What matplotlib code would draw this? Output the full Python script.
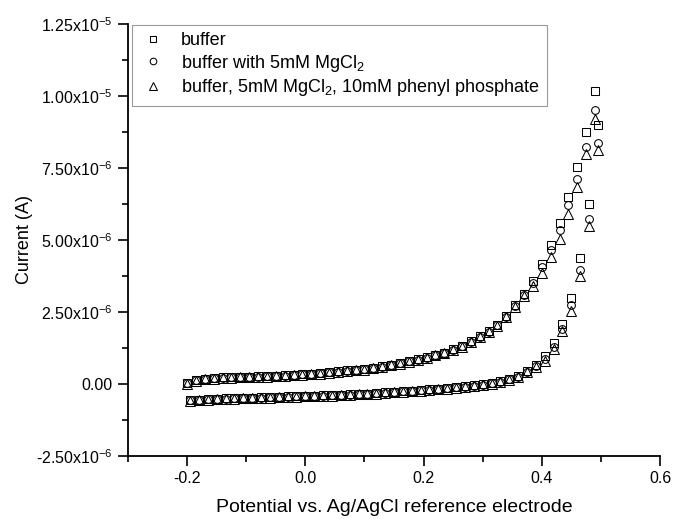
import matplotlib
matplotlib.use("Agg")
import matplotlib.pyplot as plt
from matplotlib.ticker import MultipleLocator, FixedLocator, FixedFormatter

plt.rcParams['font.family'] = ['Liberation Sans', 'DejaVu Sans']
plt.rcParams['mathtext.fontset'] = 'custom'
plt.rcParams['mathtext.rm'] = 'Liberation Sans'
plt.rcParams['mathtext.it'] = 'Liberation Sans:italic'
plt.rcParams['mathtext.bf'] = 'Liberation Sans:bold'

# ---------------- data (current in microamps) ----------------
x_forward = [-0.200, -0.185, -0.170, -0.155, -0.140, -0.125, -0.110, -0.095, -0.080, -0.065,
             -0.050, -0.035, -0.020, -0.005, 0.010, 0.025, 0.040, 0.055, 0.070, 0.085,
             0.100, 0.115, 0.130, 0.145, 0.160, 0.175, 0.190, 0.205, 0.220, 0.235,
             0.250, 0.265, 0.280, 0.295, 0.310, 0.325, 0.340, 0.355, 0.370, 0.385,
             0.400, 0.415, 0.430, 0.445, 0.460, 0.475, 0.490]
x_reverse = [0.495, 0.480, 0.465, 0.450, 0.435, 0.420, 0.405, 0.390, 0.375, 0.360,
             0.345, 0.330, 0.315, 0.300, 0.285, 0.270, 0.255, 0.240, 0.225, 0.210,
             0.195, 0.180, 0.165, 0.150, 0.135, 0.120, 0.105, 0.090, 0.075, 0.060,
             0.045, 0.030, 0.015, 0.000, -0.015, -0.030, -0.045, -0.060, -0.075, -0.090,
             -0.105, -0.120, -0.135, -0.150, -0.165, -0.180, -0.195]

buffer_fwd = [0.03, 0.14, 0.19, 0.21, 0.23, 0.24, 0.25, 0.26, 0.27, 0.28,
              0.29, 0.30, 0.32, 0.34, 0.36, 0.38, 0.41, 0.44, 0.47, 0.49,
              0.52, 0.56, 0.61, 0.67, 0.73, 0.80, 0.86, 0.93, 1.01, 1.09,
              1.20, 1.32, 1.48, 1.65, 1.83, 2.05, 2.36, 2.74, 3.13, 3.59,
              4.18, 4.84, 5.58, 6.48, 7.53, 8.75, 10.17]
buffer_rev = [9.01, 6.25, 4.37, 3.00, 2.08, 1.44, 0.97, 0.66, 0.44, 0.28,
              0.17, 0.09, 0.03, -0.01, -0.05, -0.08, -0.11, -0.14, -0.17, -0.19,
              -0.21, -0.23, -0.25, -0.27, -0.29, -0.31, -0.33, -0.34, -0.36, -0.37,
              -0.38, -0.39, -0.40, -0.41, -0.42, -0.43, -0.44, -0.45, -0.46, -0.47,
              -0.48, -0.49, -0.50, -0.51, -0.52, -0.54, -0.56]

mgcl2_fwd = [0.02, 0.13, 0.18, 0.20, 0.22, 0.23, 0.24, 0.25, 0.26, 0.27,
             0.28, 0.29, 0.31, 0.33, 0.35, 0.37, 0.40, 0.43, 0.46, 0.48,
             0.51, 0.55, 0.60, 0.66, 0.72, 0.79, 0.85, 0.92, 1.00, 1.08,
             1.19, 1.31, 1.47, 1.64, 1.82, 2.04, 2.33, 2.70, 3.10, 3.50,
             4.05, 4.65, 5.33, 6.20, 7.12, 8.22, 9.53]
mgcl2_rev = [8.37, 5.73, 3.96, 2.75, 1.90, 1.30, 0.88, 0.62, 0.42, 0.26,
             0.16, 0.08, 0.02, -0.02, -0.06, -0.09, -0.12, -0.15, -0.18, -0.20,
             -0.22, -0.24, -0.26, -0.28, -0.30, -0.32, -0.34, -0.35, -0.37, -0.38,
             -0.39, -0.40, -0.41, -0.42, -0.43, -0.44, -0.45, -0.46, -0.47, -0.48,
             -0.49, -0.50, -0.51, -0.52, -0.53, -0.55, -0.57]

phenyl_fwd = [0.01, 0.12, 0.17, 0.19, 0.21, 0.22, 0.23, 0.24, 0.25, 0.26,
              0.27, 0.28, 0.30, 0.32, 0.34, 0.36, 0.39, 0.42, 0.45, 0.47,
              0.50, 0.54, 0.59, 0.65, 0.71, 0.78, 0.84, 0.91, 0.99, 1.07,
              1.18, 1.30, 1.46, 1.63, 1.81, 2.02, 2.31, 2.68, 3.06, 3.42,
              3.85, 4.40, 5.04, 5.92, 6.83, 7.97, 9.21]
phenyl_rev = [8.11, 5.50, 3.76, 2.54, 1.84, 1.20, 0.80, 0.60, 0.40, 0.24,
              0.14, 0.07, 0.01, -0.03, -0.07, -0.10, -0.13, -0.16, -0.19, -0.21,
              -0.23, -0.25, -0.27, -0.29, -0.31, -0.33, -0.35, -0.36, -0.38, -0.39,
              -0.40, -0.41, -0.42, -0.43, -0.44, -0.45, -0.46, -0.47, -0.48, -0.49,
              -0.50, -0.51, -0.52, -0.53, -0.54, -0.56, -0.58]

series_labels = ['buffer', 'buffer with 5mM MgCl$_2$',
                 'buffer, 5mM MgCl$_2$, 10mM phenyl phosphate']
y_tick_values = [-2.5e-6, 0.0, 2.5e-6, 5.0e-6, 7.5e-6, 1.0e-5, 1.25e-5]
y_tick_labels = ['-2.50x10$^{-6}$', '0.00', '2.50x10$^{-6}$', '5.00x10$^{-6}$',
                 '7.50x10$^{-6}$', '1.00x10$^{-5}$', '1.25x10$^{-5}$']
x_tick_values = [-0.2, 0.0, 0.2, 0.4, 0.6]
x_tick_labels = ['-0.2', '0.0', '0.2', '0.4', '0.6']

# ---------------- figure ----------------
fig = plt.figure(figsize=(6.74, 5.19), dpi=100)
ax = fig.add_axes([128 / 674, (519 - 456) / 519, (660 - 128) / 674, (456 - 24) / 519])

markers = ['s', 'o', '^']
sizes = [5.9, 5.6, 6.6]
data = [(buffer_fwd, buffer_rev), (mgcl2_fwd, mgcl2_rev), (phenyl_fwd, phenyl_rev)]
for (fwd, rev), m, ms, lab in zip(data, markers, sizes, series_labels):
    xs = x_forward + x_reverse
    ys = [v * 1e-6 for v in fwd + rev]
    ax.plot(xs, ys, linestyle='none', marker=m, markersize=ms,
            markerfacecolor='none', markeredgecolor='black', markeredgewidth=0.75,
            label=lab)

ax.set_xlim(-0.3, 0.6)
ax.set_ylim(-2.5e-6, 1.25e-5)
ax.xaxis.set_major_locator(FixedLocator(x_tick_values))
ax.xaxis.set_major_formatter(FixedFormatter(x_tick_labels))
ax.xaxis.set_minor_locator(MultipleLocator(0.1))
ax.yaxis.set_major_locator(FixedLocator(y_tick_values))
ax.yaxis.set_major_formatter(FixedFormatter(y_tick_labels))
ax.yaxis.set_minor_locator(MultipleLocator(1.25e-6))

for s in ['top', 'right']:
    ax.spines[s].set_visible(False)
for s in ['left', 'bottom']:
    ax.spines[s].set_linewidth(1.3)
ax.tick_params(which='major', direction='out', length=7, width=1.2, labelsize=11.5, pad=4)
ax.tick_params(which='minor', direction='out', length=4, width=1.2)

ax.set_ylabel('Current (A)', fontsize=13, labelpad=2)
ax.set_xlabel('Potential vs. Ag/AgCl reference electrode', fontsize=14, labelpad=9)

leg = ax.legend(loc='upper left', bbox_to_anchor=(0.0075, 0.998), fontsize=13,
                frameon=True, fancybox=False, edgecolor='#999999', framealpha=1,
                handlelength=1.5, handletextpad=0.8, borderpad=0.4, labelspacing=0.2,
                borderaxespad=0.0, markerscale=0.85)
leg.get_frame().set_linewidth(0.8)

fig.savefig('out.png', dpi=100)
